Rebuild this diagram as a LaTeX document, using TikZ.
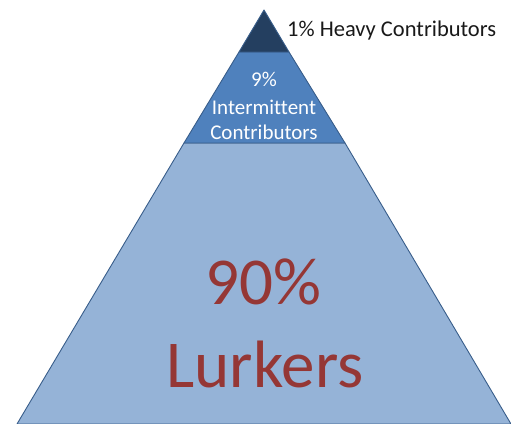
\documentclass[tikz,border=0pt]{standalone}
\usepackage{fontspec}
\setmainfont[Ligatures=CommonOff]{Carlito}
\usepackage{tikz}

\definecolor{topblue}{HTML}{243F60}
\definecolor{midblue}{HTML}{4F81BD}
\definecolor{lowblue}{HTML}{95B3D7}
\definecolor{edgeblue}{HTML}{385D8A}
\definecolor{lurkred}{HTML}{953735}

\tikzset{
  layer/.style={draw=edgeblue, line width=0.9pt, line join=round},
  midtext/.style={anchor=base, text=white, font=\fontsize{21}{25}\selectfont, inner sep=0pt},
  bigtext/.style={anchor=base, text=lurkred, font=\fontsize{67}{80}\selectfont, inner sep=0pt}
}

\begin{document}
\begin{tikzpicture}[x=1pt, y=1pt]
    \useasboundingbox (0, 0) rectangle (511, 423);
    % corners of the layers
    \coordinate (apex) at (264, 413);
    \coordinate (t1) at (239, 371);
    \coordinate (t2) at (289, 371);
    \coordinate (m1) at (184, 280);
    \coordinate (m2) at (345, 280);
    \coordinate (b1) at (17, -1);
    \coordinate (b2) at (511, -1);

    \fill [lowblue, layer] (m1) -- (m2) -- (b2) -- (b1) -- cycle;
    \fill [midblue, layer] (t1) -- (t2) -- (m2) -- (m1) -- cycle;
    \fill [topblue, layer] (apex) -- (t2) -- (t1) -- cycle;

    \node [anchor=base west, inner sep=0pt, text=black!90, font=\fontsize{22.5}{26}\selectfont] (heavy) at (287, 386) {1\% Heavy Contributors};

    \node [midtext] (nine) at (264, 336) {9\%};
    \node [midtext] (inter) at (264, 308) {Intermittent};
    \node [midtext] (contrib) at (264, 283) {Contributors};

    \node [bigtext] (ninety) at (263, 118) {90\%};
    \node [bigtext] (lurk) at (265, 36) {Lurkers};
\end{tikzpicture}
\end{document}
